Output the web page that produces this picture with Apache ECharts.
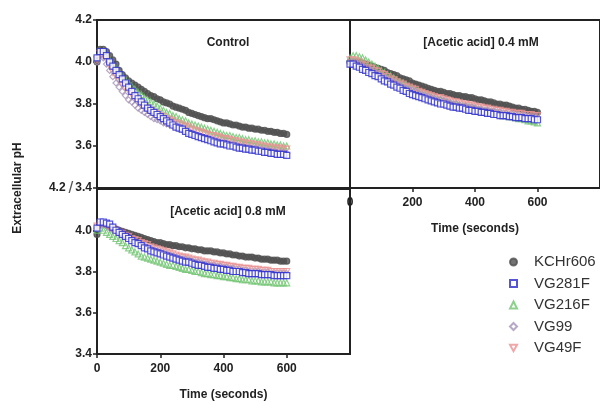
<!DOCTYPE html>
<html>
<head>
<meta charset="utf-8">
<script src="https://cdn.jsdelivr.net/npm/echarts@6/dist/echarts.min.js"></script>
<style>html,body{margin:0;padding:0;background:#fff}#c{width:600px;height:402px}</style>
</head>
<body>
<div id="c"></div>
<script>
// Time points (seconds)
const TIMES = [0,10,20,30,40,50,60,70,80,90,100,110,120,130,140,150,160,170,180,190,200,210,220,230,240,250,260,270,280,290,300,310,320,330,340,350,360,370,380,390,400,410,420,430,440,450,460,470,480,490,500,510,520,530,540,550,560,570,580,590,600];

const SERIES_NAMES = ['KCHr606','VG281F','VG216F','VG99','VG49F'];
const PANEL_TITLES = ['Control','[Acetic acid] 0.4 mM','[Acetic acid] 0.8 mM'];
const X_TICKS = [0,200,400,600];
const Y_TICKS = [3.4,3.6,3.8,4.0,4.2];

// Control
const CTRL_KCHr606 = [4.00,4.06,4.06,4.05,4.03,4.01,3.99,3.96,3.94,3.925,3.91,3.90,3.89,3.88,3.87,3.86,3.85,3.84,3.835,3.825,3.82,3.81,3.805,3.80,3.79,3.785,3.78,3.775,3.77,3.76,3.755,3.75,3.745,3.74,3.735,3.73,3.73,3.725,3.72,3.715,3.71,3.71,3.705,3.70,3.70,3.695,3.69,3.69,3.685,3.685,3.68,3.68,3.675,3.675,3.67,3.67,3.665,3.665,3.66,3.66,3.655];
const CTRL_VG281F = [4.02,4.05,4.05,4.03,4.00,3.98,3.96,3.94,3.92,3.90,3.88,3.86,3.84,3.825,3.81,3.795,3.78,3.77,3.76,3.75,3.74,3.73,3.72,3.71,3.70,3.69,3.685,3.68,3.67,3.66,3.655,3.65,3.645,3.64,3.635,3.63,3.625,3.62,3.615,3.61,3.61,3.605,3.60,3.60,3.595,3.59,3.59,3.585,3.585,3.58,3.58,3.575,3.575,3.57,3.57,3.565,3.565,3.56,3.56,3.56,3.555];
const CTRL_VG216F = [4.02,4.05,4.05,4.03,4.01,3.99,3.97,3.95,3.93,3.915,3.90,3.885,3.87,3.855,3.845,3.83,3.82,3.81,3.80,3.79,3.78,3.77,3.76,3.755,3.745,3.74,3.73,3.725,3.72,3.71,3.705,3.70,3.695,3.69,3.685,3.68,3.675,3.67,3.665,3.66,3.655,3.65,3.65,3.645,3.64,3.64,3.635,3.63,3.63,3.625,3.625,3.62,3.62,3.615,3.615,3.61,3.61,3.605,3.605,3.60,3.60];
const CTRL_VG99 = [4.00,4.03,4.02,3.99,3.96,3.93,3.90,3.88,3.86,3.84,3.82,3.81,3.795,3.78,3.77,3.76,3.75,3.74,3.73,3.725,3.72,3.71,3.705,3.70,3.695,3.69,3.68,3.675,3.67,3.665,3.66,3.655,3.65,3.645,3.64,3.64,3.635,3.63,3.625,3.62,3.62,3.615,3.61,3.61,3.605,3.60,3.60,3.595,3.595,3.59,3.59,3.585,3.585,3.58,3.58,3.575,3.575,3.57,3.57,3.57,3.565];
const CTRL_VG49F = [4.01,4.04,4.03,4.01,3.98,3.95,3.93,3.91,3.89,3.875,3.86,3.845,3.83,3.815,3.80,3.79,3.78,3.77,3.76,3.755,3.745,3.74,3.73,3.725,3.72,3.71,3.705,3.70,3.695,3.69,3.68,3.675,3.67,3.665,3.66,3.655,3.65,3.65,3.645,3.64,3.635,3.635,3.63,3.625,3.625,3.62,3.615,3.615,3.61,3.61,3.605,3.605,3.60,3.60,3.595,3.595,3.59,3.59,3.59,3.585,3.585];

// Acetic acid 0.4 mM
const A04_KCHr606 = [4.00,4.00,4.00,4.00,3.995,3.99,3.985,3.98,3.975,3.97,3.965,3.96,3.95,3.945,3.94,3.935,3.925,3.92,3.915,3.91,3.90,3.895,3.89,3.885,3.88,3.875,3.87,3.865,3.86,3.86,3.855,3.85,3.85,3.845,3.84,3.84,3.835,3.835,3.83,3.83,3.825,3.82,3.82,3.815,3.81,3.81,3.805,3.80,3.80,3.795,3.795,3.79,3.785,3.78,3.78,3.775,3.775,3.77,3.765,3.765,3.76];
const A04_VG281F = [3.99,3.99,3.98,3.975,3.965,3.96,3.95,3.945,3.935,3.93,3.92,3.91,3.905,3.895,3.89,3.88,3.875,3.865,3.86,3.85,3.845,3.84,3.835,3.83,3.825,3.82,3.815,3.81,3.805,3.80,3.80,3.795,3.79,3.785,3.785,3.78,3.78,3.775,3.77,3.77,3.765,3.765,3.76,3.76,3.755,3.755,3.75,3.75,3.745,3.745,3.745,3.74,3.74,3.735,3.735,3.735,3.73,3.73,3.73,3.725,3.725];
const A04_VG216F = [4.02,4.03,4.03,4.025,4.02,4.01,4.00,3.99,3.98,3.97,3.96,3.95,3.94,3.935,3.925,3.915,3.905,3.90,3.89,3.88,3.875,3.87,3.86,3.855,3.85,3.845,3.835,3.83,3.825,3.82,3.815,3.81,3.805,3.80,3.80,3.795,3.79,3.79,3.785,3.78,3.78,3.775,3.77,3.765,3.765,3.76,3.755,3.755,3.75,3.745,3.745,3.74,3.74,3.735,3.73,3.73,3.725,3.72,3.72,3.715,3.71];
const A04_VG99 = [4.00,4.00,3.995,3.99,3.98,3.975,3.965,3.96,3.95,3.945,3.935,3.925,3.92,3.91,3.905,3.895,3.89,3.88,3.875,3.87,3.865,3.86,3.85,3.845,3.84,3.835,3.83,3.825,3.82,3.82,3.815,3.81,3.805,3.80,3.80,3.795,3.79,3.79,3.785,3.785,3.78,3.775,3.775,3.77,3.77,3.765,3.765,3.76,3.76,3.755,3.755,3.75,3.75,3.75,3.745,3.745,3.745,3.74,3.74,3.74,3.735];
const A04_VG49F = [4.01,4.01,4.005,4.00,3.99,3.985,3.975,3.97,3.96,3.955,3.945,3.94,3.93,3.92,3.915,3.905,3.90,3.895,3.885,3.88,3.875,3.87,3.86,3.855,3.85,3.845,3.84,3.835,3.83,3.83,3.825,3.82,3.815,3.81,3.81,3.805,3.80,3.80,3.795,3.795,3.79,3.785,3.785,3.78,3.78,3.775,3.775,3.77,3.77,3.765,3.765,3.76,3.76,3.755,3.755,3.755,3.75,3.75,3.75,3.745,3.745];

// Acetic acid 0.8 mM
const A08_KCHr606 = [3.98,4.03,4.03,4.025,4.02,4.01,4.005,4.00,3.995,3.99,3.985,3.98,3.975,3.97,3.965,3.96,3.955,3.95,3.945,3.94,3.94,3.935,3.93,3.93,3.925,3.925,3.92,3.92,3.915,3.915,3.91,3.91,3.905,3.905,3.90,3.90,3.90,3.895,3.895,3.89,3.89,3.885,3.885,3.88,3.88,3.875,3.875,3.87,3.87,3.87,3.865,3.865,3.86,3.86,3.86,3.855,3.855,3.855,3.85,3.85,3.85];
const A08_VG281F = [4.01,4.04,4.04,4.035,4.03,4.015,4.00,3.99,3.98,3.97,3.96,3.95,3.94,3.935,3.925,3.915,3.91,3.90,3.895,3.89,3.885,3.88,3.875,3.87,3.865,3.86,3.855,3.85,3.845,3.845,3.84,3.835,3.83,3.83,3.825,3.82,3.82,3.815,3.815,3.81,3.81,3.805,3.805,3.80,3.80,3.80,3.795,3.795,3.79,3.79,3.79,3.79,3.785,3.785,3.785,3.785,3.78,3.78,3.78,3.78,3.78];
const A08_VG216F = [4.00,4.01,4.00,3.99,3.98,3.97,3.96,3.95,3.94,3.925,3.915,3.905,3.895,3.885,3.875,3.87,3.865,3.86,3.855,3.85,3.845,3.84,3.835,3.83,3.83,3.825,3.82,3.815,3.81,3.81,3.805,3.80,3.80,3.795,3.79,3.79,3.785,3.785,3.78,3.78,3.775,3.775,3.77,3.77,3.765,3.765,3.76,3.76,3.76,3.755,3.755,3.755,3.75,3.75,3.75,3.75,3.745,3.745,3.745,3.745,3.745];
const A08_VG99 = [4.01,4.03,4.03,4.02,4.01,4.00,3.995,3.985,3.975,3.965,3.96,3.95,3.945,3.935,3.93,3.92,3.915,3.91,3.905,3.90,3.895,3.89,3.885,3.88,3.875,3.87,3.865,3.86,3.86,3.855,3.85,3.845,3.845,3.84,3.835,3.835,3.83,3.83,3.825,3.825,3.82,3.82,3.815,3.815,3.81,3.81,3.805,3.805,3.80,3.80,3.80,3.80,3.795,3.795,3.795,3.79,3.79,3.79,3.79,3.79,3.79];
const A08_VG49F = [4.02,4.03,4.03,4.025,4.015,4.005,4.00,3.99,3.985,3.975,3.97,3.96,3.955,3.95,3.94,3.935,3.93,3.92,3.915,3.91,3.905,3.90,3.895,3.89,3.885,3.88,3.875,3.87,3.87,3.865,3.86,3.855,3.855,3.85,3.845,3.845,3.84,3.84,3.835,3.835,3.83,3.83,3.825,3.825,3.82,3.82,3.815,3.815,3.815,3.81,3.81,3.81,3.805,3.805,3.805,3.80,3.80,3.80,3.80,3.80,3.80];

const PANELS = [
  [CTRL_KCHr606, CTRL_VG281F, CTRL_VG216F, CTRL_VG99, CTRL_VG49F],
  [A04_KCHr606, A04_VG281F, A04_VG216F, A04_VG99, A04_VG49F],
  [A08_KCHr606, A08_VG281F, A08_VG216F, A08_VG99, A08_VG49F]
];

const FONT = '"Liberation Sans", Arial, sans-serif';
const AX = '#222';
const STYLES = [
  {symbol:'circle', size:6, fill:'#505050', border:'#505050', z:3},
  {symbol:'rect', size:6, fill:'#ffffff', border:'#2a2acc', z:6},
  {symbol:'triangle', size:6, fill:'rgba(255,255,255,0)', border:'#72c472', z:4},
  {symbol:'diamond', size:6, fill:'rgba(255,255,255,0)', border:'#a592b8', z:5},
  {symbol:'path://M0,0 L10,0 L5,9 Z', size:6, fill:'rgba(255,255,255,0)', border:'#e89494', z:4}
];

const GRIDS = [
  {left:97, top:20, width:253, height:168},
  {left:350, top:20, width:253, height:168},
  {left:97, top:189, width:253, height:168}
];

const chart = echarts.init(document.getElementById('c'), null, {renderer:'canvas'});

const xAxes = GRIDS.map((g, i) => ({
  gridIndex: i, type:'value', min:0, max:800, interval:200,
  name: i === 0 ? '' : 'Time (seconds)', nameLocation:'middle', nameGap:35,
  nameTextStyle:{fontFamily:FONT, fontWeight:'bold', fontSize:12, color:AX},
  axisLine:{show:true, lineStyle:{color:AX, width:2}},
  axisTick:{show: i !== 0, length:4, lineStyle:{color:AX, width:1.5}, customValues:X_TICKS},
  axisLabel:{show: i !== 0, fontFamily:FONT, fontWeight:'bold', fontSize:12, color:AX, margin:9, customValues:X_TICKS},
  splitLine:{show:false}
}));

const yAxes = GRIDS.map((g, i) => ({
  gridIndex: i, type:'value', min:3.4, max:4.2, interval:0.2,
  axisLine:{show:true, lineStyle:{color:AX, width:2}},
  axisTick:{show: i !== 1, length:4, lineStyle:{color:AX, width:1.5}, customValues: i === 2 ? Y_TICKS.slice(0,4) : Y_TICKS},
  axisLabel:{show: i !== 1, fontFamily:FONT, fontWeight:'bold', fontSize:12, color:AX, margin:5,
    customValues: i === 2 ? Y_TICKS.slice(0,4) : Y_TICKS,
    formatter: v => {
      if (i === 0 && Math.abs(v - 3.4) < 1e-6) return '{a|4.2}{s|/}{a|3.4}';
      return '{a|' + v.toFixed(1) + '}';
    },
    rich:{
      a:{fontFamily:FONT, fontWeight:'bold', fontSize:12, color:AX},
      s:{fontFamily:FONT, fontWeight:'normal', fontSize:17, color:'#555', padding:[0,2,0,3]}
    }
  },
  splitLine:{show:false}
}));

const series = [];
PANELS.forEach((panel, gi) => {
  panel.forEach((vals, si) => {
    const st = STYLES[si];
    series.push({
      name: SERIES_NAMES[si], type:'scatter', xAxisIndex:gi, yAxisIndex:gi,
      symbol: st.symbol, symbolSize: st.size, z: st.z,
      itemStyle:{color: st.fill, borderColor: st.border, borderWidth:1.2},
      data: TIMES.map((t, k) => [t, vals[k]]),
      silent:true, animation:false
    });
  });
});

const option = {
  backgroundColor:'#fff',
  animation:false,
  grid: GRIDS.map(g => Object.assign({show:true, borderColor:AX, borderWidth:2, backgroundColor:'rgba(0,0,0,0)'}, g)),
  xAxis: xAxes,
  yAxis: yAxes,
  title: PANEL_TITLES.map((t, i) => ({
    text: t, left: GRIDS[i].left + 126, top: GRIDS[i].top + 12, textAlign:'center',
    textStyle:{fontFamily:FONT, fontWeight:'bold', fontSize:12, color:AX}
  })),
  legend:{
    orient:'vertical', left:504, top:249, itemWidth:7, itemHeight:7, itemGap:5.5,
    data: SERIES_NAMES,
    textStyle:{fontFamily:FONT, fontSize:15, color:'#333', lineHeight:16, padding:[0,0,0,12]},
    selectedMode:false
  },
  graphic:[{
    type:'text', x:18, y:188, rotation:Math.PI/2,
    style:{text:'Extracellular pH', fontFamily:FONT, fontWeight:'bold', fontSize:12, fill:AX, textAlign:'center', textVerticalAlign:'middle'}
  }],
  series: series
};
chart.setOption(option);
</script>
</body>
</html>
